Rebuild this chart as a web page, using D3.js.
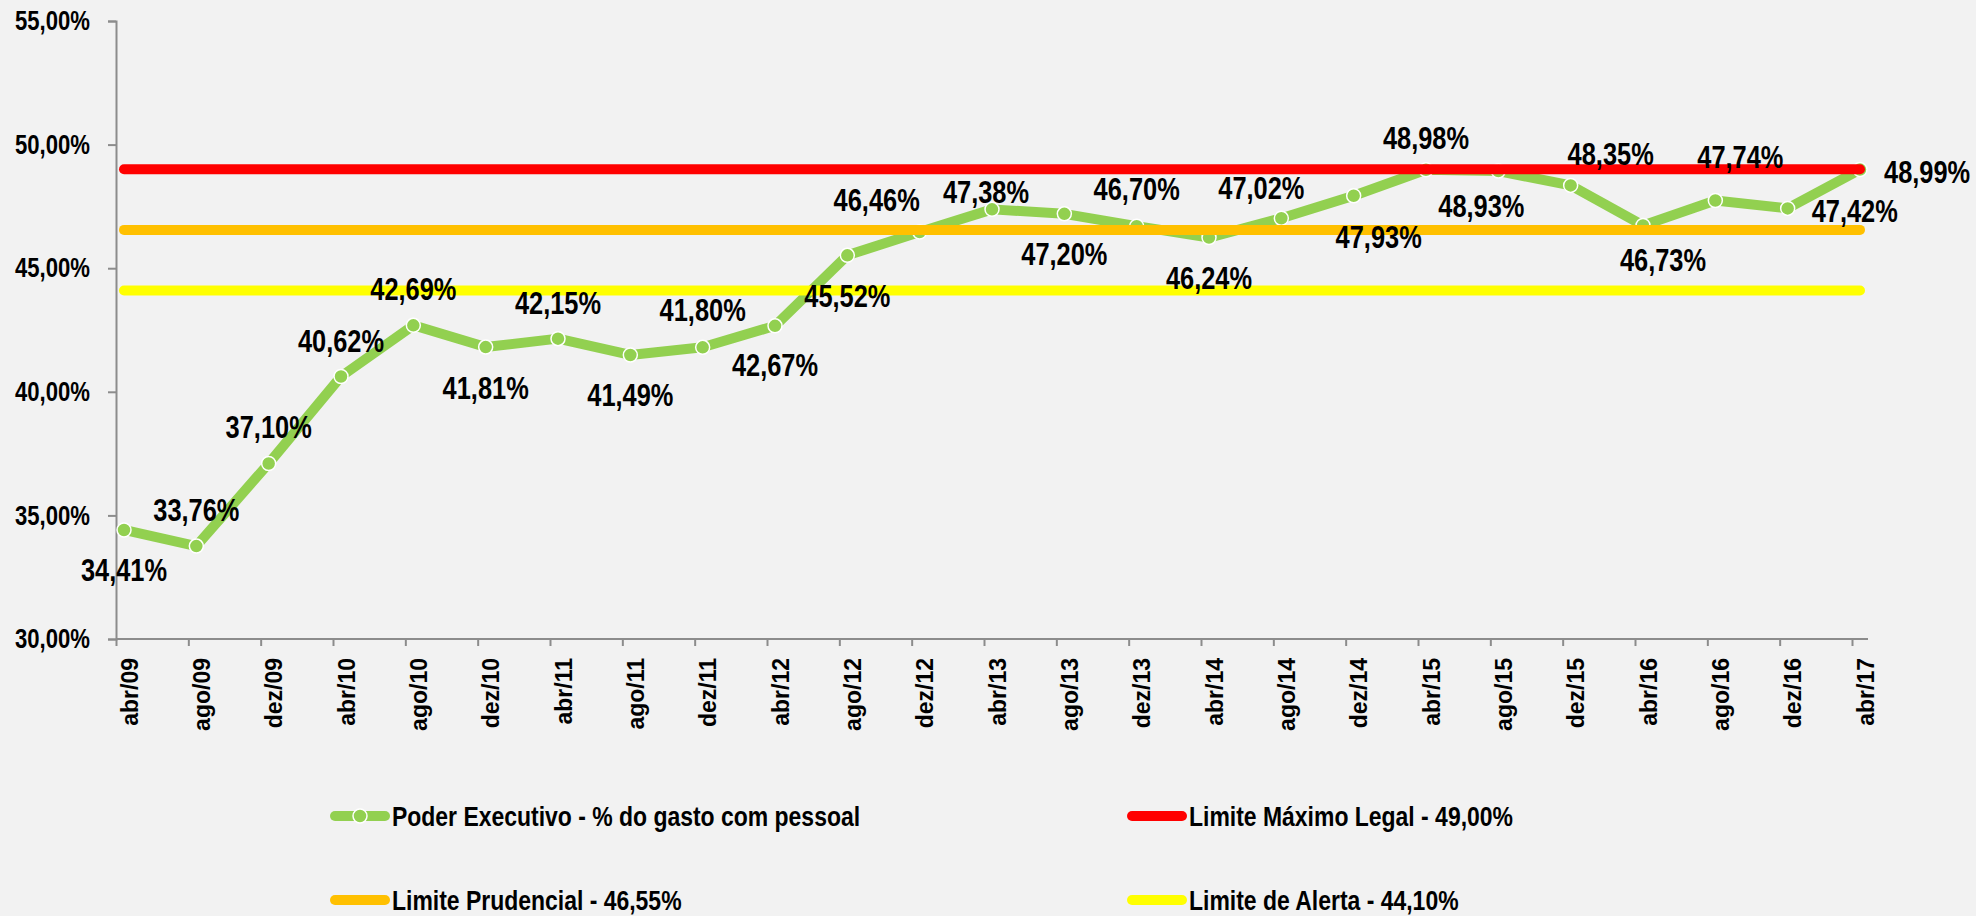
<!DOCTYPE html>
<html>
<head>
<meta charset="utf-8">
<script src="https://cdn.jsdelivr.net/npm/d3@7"></script>
<style>
    body { margin: 0; background: #f2f2f2; }
    svg { display: block; }
</style>
</head>
<body>
<div id="chart"></div>
<script>
// categories (quadrimestres) and series values
const categories = ["abr/09", "ago/09", "dez/09", "abr/10", "ago/10", "dez/10", "abr/11", "ago/11", "dez/11",
    "abr/12", "ago/12", "dez/12", "abr/13", "ago/13", "dez/13", "abr/14", "ago/14", "dez/14",
    "abr/15", "ago/15", "dez/15", "abr/16", "ago/16", "dez/16", "abr/17"];
const executivo = [34.41, 33.76, 37.10, 40.62, 42.69, 41.81, 42.15, 41.49, 41.80,
    42.67, 45.52, 46.46, 47.38, 47.20, 46.70, 46.24, 47.02, 47.93,
    48.98, 48.93, 48.35, 46.73, 47.74, 47.42, 48.99];
const limitNames = ["Limite Máximo Legal - 49,00%", "Limite Prudencial - 46,55%", "Limite de Alerta - 44,10%"];
const limitValues = [49.00, 46.55, 44.10];
const yTicks = [30, 35, 40, 45, 50, 55];
const seriesName = "Poder Executivo - % do gasto com pessoal";

// where each data label sits relative to its point (label layout, not data)
// "r" = label placed to the right of the point
const labelOffsets = [
    [0, 40], [0, -36], [0, -37], [0, -36], [0, -36], [0, 41], [0, -36], [0, 40], [0, -37],
    [0, 39], [0, 40], [-43, -32], [-6, -18], [0, 40], [0, -37], [0, 40], [-20, -30], [25, 41],
    [0, -32], [-17, 35], [40, -32], [20, 34], [25, -44], ["r", 2], ["r", 2]
];

const W = 1976, H = 916;
const margin = { top: 21, right: 108, bottom: 277, left: 116 };
const width = W - margin.left - margin.right;
const height = H - margin.top - margin.bottom;

// Arial Narrow is not available: squeeze Liberation Sans Bold horizontally instead
const SQUEEZE = 0.82;
const sans = "'Liberation Sans', Arial, sans-serif";
const ptbr = d3.formatLocale({ decimal: ",", thousands: ".", grouping: [3], currency: ["R$", ""] });
const fmt = v => ptbr.format(".2f")(v) + "%";

const colors = { serie: "#92d050", limits: ["#ff0000", "#ffc000", "#ffff00"], axis: "#8c8c8c" };

function narrow(sel, size) {
    sel.style("font-family", sans)
        .style("font-weight", "bold")
        .style("font-size", size + "px")
        .style("fill", "#000");
}

const svg = d3.select("#chart").append("svg")
    .attr("width", W)
    .attr("height", H)
    .style("background", "#f2f2f2");

const g = svg.append("g").attr("transform", `translate(${margin.left},${margin.top})`);

const x = d3.scalePoint().domain(categories).range([8, width - 8]);
const y = d3.scaleLinear().domain([30, 55]).range([height, 0]);

// Y axis
const yAxis = g.append("g")
    .call(d3.axisLeft(y).tickValues(yTicks).tickSize(8).tickPadding(18).tickFormat(d => ptbr.format(".2f")(d) + "%"));
yAxis.select(".domain").attr("stroke", colors.axis).attr("stroke-width", 2);
yAxis.selectAll(".tick line").attr("stroke", colors.axis).attr("stroke-width", 2);
yAxis.selectAll("text")
    .attr("x", -26 / SQUEEZE)
    .attr("transform", `scale(${SQUEEZE},1)`)
    .call(narrow, 27);

// X axis (ticks sit slightly left of the points, as in the original)
const xAxis = g.append("g")
    .attr("transform", `translate(0,${height})`)
    .call(d3.axisBottom(x).tickSize(7).tickSizeOuter(0));
xAxis.select(".domain").remove();
xAxis.selectAll(".tick line").attr("x1", -8).attr("x2", -8)
    .attr("stroke", colors.axis).attr("stroke-width", 2);
xAxis.selectAll("text")
    .attr("transform", "rotate(-90)")
    .attr("text-anchor", "end")
    .attr("x", -19)
    .attr("y", 13)
    .attr("dy", 0)
    .style("font-family", sans)
    .style("font-weight", "bold")
    .style("font-size", "23px")
    .style("fill", "#000");
g.append("line")
    .attr("x1", 0).attr("x2", width)
    .attr("y1", height).attr("y2", height)
    .attr("stroke", colors.axis).attr("stroke-width", 2);

// series line
const line = d3.line().x((d, i) => x(categories[i])).y(d => y(d));
g.append("path")
    .datum(executivo)
    .attr("fill", "none")
    .attr("stroke", colors.serie)
    .attr("stroke-width", 10)
    .attr("stroke-linejoin", "round")
    .attr("stroke-linecap", "round")
    .attr("d", line);

g.selectAll(".pt")
    .data(executivo)
    .enter().append("circle")
    .attr("class", "pt")
    .attr("cx", (d, i) => x(categories[i]))
    .attr("cy", d => y(d))
    .attr("r", 7)
    .attr("fill", colors.serie)
    .attr("stroke", "#fff")
    .attr("stroke-width", 1.5);

// limit lines
g.selectAll(".limit")
    .data(limitValues)
    .enter().append("line")
    .attr("class", "limit")
    .attr("x1", x(categories[0]))
    .attr("x2", x(categories[categories.length - 1]))
    .attr("y1", d => y(d))
    .attr("y2", d => y(d))
    .attr("stroke", (d, i) => colors.limits[i])
    .attr("stroke-width", 10)
    .attr("stroke-linecap", "round");

// data labels
g.selectAll(".lbl")
    .data(executivo)
    .enter().append("text")
    .attr("class", "lbl")
    .attr("transform", (d, i) => {
        const o = labelOffsets[i];
        const lx = o[0] === "r" ? x(categories[i]) + 24 : x(categories[i]) + o[0];
        return `translate(${lx},${y(d) + o[1]}) scale(${SQUEEZE},1)`;
    })
    .attr("dy", "0.36em")
    .attr("text-anchor", (d, i) => labelOffsets[i][0] === "r" ? "start" : "middle")
    .call(narrow, 31)
    .text(d => fmt(d));

// legend
const legendItems = [
    { name: seriesName, color: colors.serie, marker: true },
    { name: limitNames[0], color: colors.limits[0] },
    { name: limitNames[1], color: colors.limits[1] },
    { name: limitNames[2], color: colors.limits[2] }
];
const legend = svg.append("g");
const lg = legend.selectAll(".leg")
    .data(legendItems)
    .enter().append("g")
    .attr("class", "leg")
    .attr("transform", (d, i) => `translate(${i % 2 === 0 ? 335 : 1132},${i < 2 ? 816 : 900})`);
lg.append("line")
    .attr("x1", 0).attr("x2", 50)
    .attr("stroke", d => d.color)
    .attr("stroke-width", 10)
    .attr("stroke-linecap", "round");
lg.filter(d => d.marker).append("circle")
    .attr("cx", 25).attr("r", 7)
    .attr("fill", colors.serie)
    .attr("stroke", "#fff")
    .attr("stroke-width", 1.5);
lg.append("text")
    .attr("transform", `translate(57,0) scale(${SQUEEZE},1)`)
    .attr("dy", "0.36em")
    .call(narrow, 28)
    .text(d => d.name);
</script>
</body>
</html>
